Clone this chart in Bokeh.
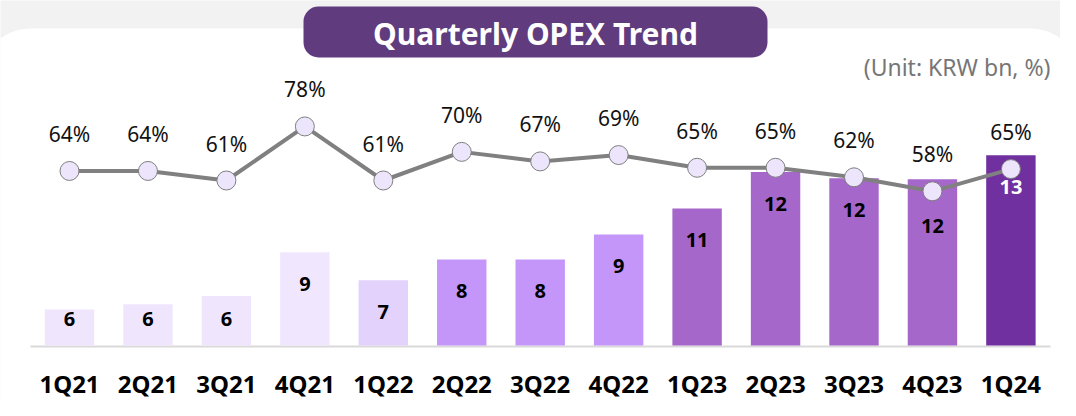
from bokeh.plotting import figure
from bokeh.models import ColumnDataSource, Range1d
from bokeh.core.properties import value
from bokeh.embed import file_html
from bokeh.resources import INLINE

# ---------------- data ----------------
quarters = ["1Q21", "2Q21", "3Q21", "4Q21", "1Q22", "2Q22", "3Q22",
            "4Q22", "1Q23", "2Q23", "3Q23", "4Q23", "1Q24"]
opex = [5.8, 6.05, 6.45, 8.55, 7.2, 8.2, 8.2, 9.4, 10.65, 12.4, 12.1, 12.05, 13.2]
ratio = [64, 64, 61, 78, 61, 70, 67, 69, 65, 65, 62, 57.6, 64.6]
bar_colors = ["#efe6fe", "#efe6fe", "#efe6fe", "#f0e7fe", "#e2d2fc",
              "#c496f9", "#c496f9", "#c496f9", "#a667cb", "#a667cb",
              "#a667cb", "#a667cb", "#7030a0"]
label_colors = ["#000000"] * 12 + ["#ffffff"]
title_text = "Quarterly OPEX Trend"
unit_text = "(Unit: KRW bn, %)"

FONT = "Noto Sans"
W, H = 1060, 400
FRAME_H = H
STEP = 78.45       # px per category
FIRST = 69         # x of first category centre
K = 20.83          # px per KRW bn
BASE = 4.07        # value at bar baseline
BASE_Y = 345       # image row of bar baseline
PCT_PX = 3.18      # px per percentage point

idx = list(range(len(quarters)))
x0 = (0 - FIRST) / STEP
x1 = (W - FIRST) / STEP
y0 = BASE - (FRAME_H - BASE_Y) / K
y1 = y0 + FRAME_H / K
p0 = 61 - (FRAME_H - 180) / PCT_PX
p1 = 61 + 180 / PCT_PX

p = figure(width=W, height=H, x_range=Range1d(x0, x1),
           y_range=Range1d(y0, y1), output_backend="svg", toolbar_location=None,
           x_axis_location=None, y_axis_location=None, min_border=0,
           outline_line_color=None, background_fill_color="white",
           border_fill_color="white")
p.grid.visible = False

# pixel helper ranges (image coordinates)
p.extra_x_ranges = {"px": Range1d(0, W)}
p.extra_y_ranges = {"py": Range1d(0, FRAME_H), "pct": Range1d(p0, p1)}


def ry(y_img):
    return FRAME_H - y_img


# background decorations
p.quad(left=[-5], right=[W + 5], top=[ry(-5)], bottom=[ry(FRAME_H + 5)], x_range_name="px",
       y_range_name="py", fill_color="#f2f2f2", line_color=None)
p.quad(left=[-20], right=[1080], top=[ry(28)], bottom=[ry(440)], x_range_name="px",
       y_range_name="py", fill_color="white", line_color=None, border_radius=50)
p.quad(left=[303], right=[767], top=[ry(6)], bottom=[ry(57)], x_range_name="px",
       y_range_name="py", fill_color="#603b7d", line_color=None, border_radius=15)
p.text(x=[535], y=[ry(33)], text=[title_text], x_range_name="px", y_range_name="py",
       text_font=value(FONT), text_font_style="bold", text_font_size="30px",
       text_color="white", text_align="center", text_baseline="middle")
p.text(x=[1050], y=[ry(66)], text=[unit_text], x_range_name="px", y_range_name="py",
       text_font=value(FONT), text_font_size="23px", text_color="#767676",
       text_align="right", text_baseline="middle")
# baseline
p.segment(x0=[30], x1=[1050], y0=[ry(346)], y1=[ry(346)], x_range_name="px",
          y_range_name="py", line_color="#d9d9d9", line_width=2)

# bars
extra = {"4Q23": 15}
lab_y = []
for q, v in zip(quarters, opex):
    yy = max(v - 32 / K, BASE + 27 / K) - extra.get(q, 0) / K
    lab_y.append(yy)
src = ColumnDataSource(dict(x=idx, v=opex, c=bar_colors, lc=label_colors,
                            ly=lab_y, lt=[f"{v:.0f}" for v in opex],
                            q=quarters, qy=[BASE - 38 / K] * len(idx)))
p.vbar(x="x", top="v", bottom=BASE, width=0.63, fill_color="c", line_color=None, source=src)

# category labels (x axis)
p.text(x="x", y="qy", text="q", source=src, text_font=value(FONT), text_font_style="bold",
       text_font_size="24px", text_color="#000000", text_align="center",
       text_baseline="middle")

# line
lsrc = ColumnDataSource(dict(x=idx, r=ratio, ry=[r + 37 / PCT_PX for r in ratio],
                             t=[f"{r:.0f}%" for r in ratio]))
p.line(x="x", y="r", y_range_name="pct", line_color="#808080", line_width=4, source=lsrc)
p.scatter(x="x", y="r", y_range_name="pct", size=19, fill_color="#ede5fb",
          line_color="#7f7f7f", line_width=1, source=lsrc)
p.text(x="x", y="ry", text="t", y_range_name="pct", source=lsrc, text_font=value(FONT),
       text_font_size="21px", text_color="#111111", text_align="center",
       text_baseline="middle")

# bar labels (drawn above the line)
p.text(x="x", y="ly", text="lt", source=src, text_font=value(FONT), text_font_style="bold",
       text_font_size="20px", text_color="lc", text_align="center", text_baseline="middle")

open("out.html", "w").write(file_html(p, INLINE))
